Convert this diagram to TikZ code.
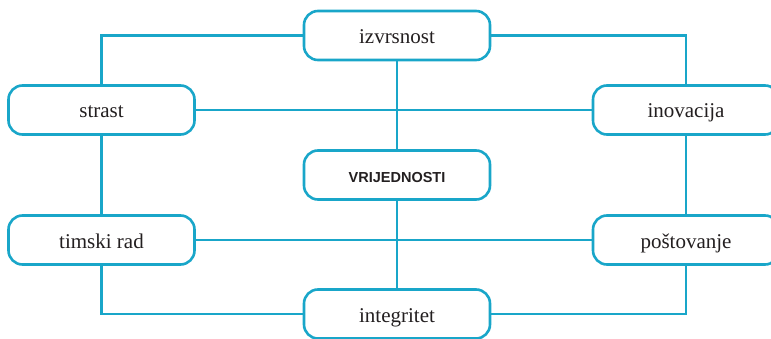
\documentclass[tikz,border=0pt]{standalone}
\usepackage{fontspec}
\setmainfont{Liberation Serif}
\newfontfamily\headsans{Liberation Sans}
\usetikzlibrary{backgrounds}
\definecolor{linecyan}{HTML}{19A6C9}
\definecolor{textdark}{HTML}{231F20}
\begin{document}
\begin{tikzpicture}[x=1pt,y=-1pt,
  valbox/.style={draw=linecyan, line width=2.6pt, rounded corners=14pt, fill=white,
    minimum width=186pt, minimum height=49pt, inner sep=0pt, text=textdark,
    text height=16pt, text depth=0pt,
    font=\fontsize{21}{24}\selectfont},
  headbox/.style={valbox, font=\headsans\bfseries\fontsize{14.5}{16}\selectfont},
  link/.style={draw=linecyan, line width=2.6pt}]
  \useasboundingbox (0,0) rectangle (771,339);
  \clip (0,0) rectangle (771,339);
  \node[valbox] (izv) at (397,35.5) {izvrsnost};
  \node[valbox] (str) at (101.5,110) {strast};
  \node[valbox] (ino) at (686,110) {inovacija};
  \node[headbox] (vri) at (397,175) {VRIJEDNOSTI};
  \node[valbox] (tim) at (101.5,240) {timski rad};
  \node[valbox] (pos) at (686,240) {poštovanje};
  \node[valbox] (int) at (397,314) {integritet};
  \begin{scope}[on background layer]
    \draw[link] (izv.west) -| (str.north);
    \draw[link] (izv.east) -| (ino.north);
    \draw[link] (str.east) -- (ino.west);
    \draw[link] (izv.south) -- (vri.north);
    \draw[link] (vri.south) -- (int.north);
    \draw[link] (str.south) -- (tim.north);
    \draw[link] (ino.south) -- (pos.north);
    \draw[link] (tim.east) -- (pos.west);
    \draw[link] (int.west) -| (tim.south);
    \draw[link] (int.east) -| (pos.south);
  \end{scope}
\end{tikzpicture}
\end{document}
